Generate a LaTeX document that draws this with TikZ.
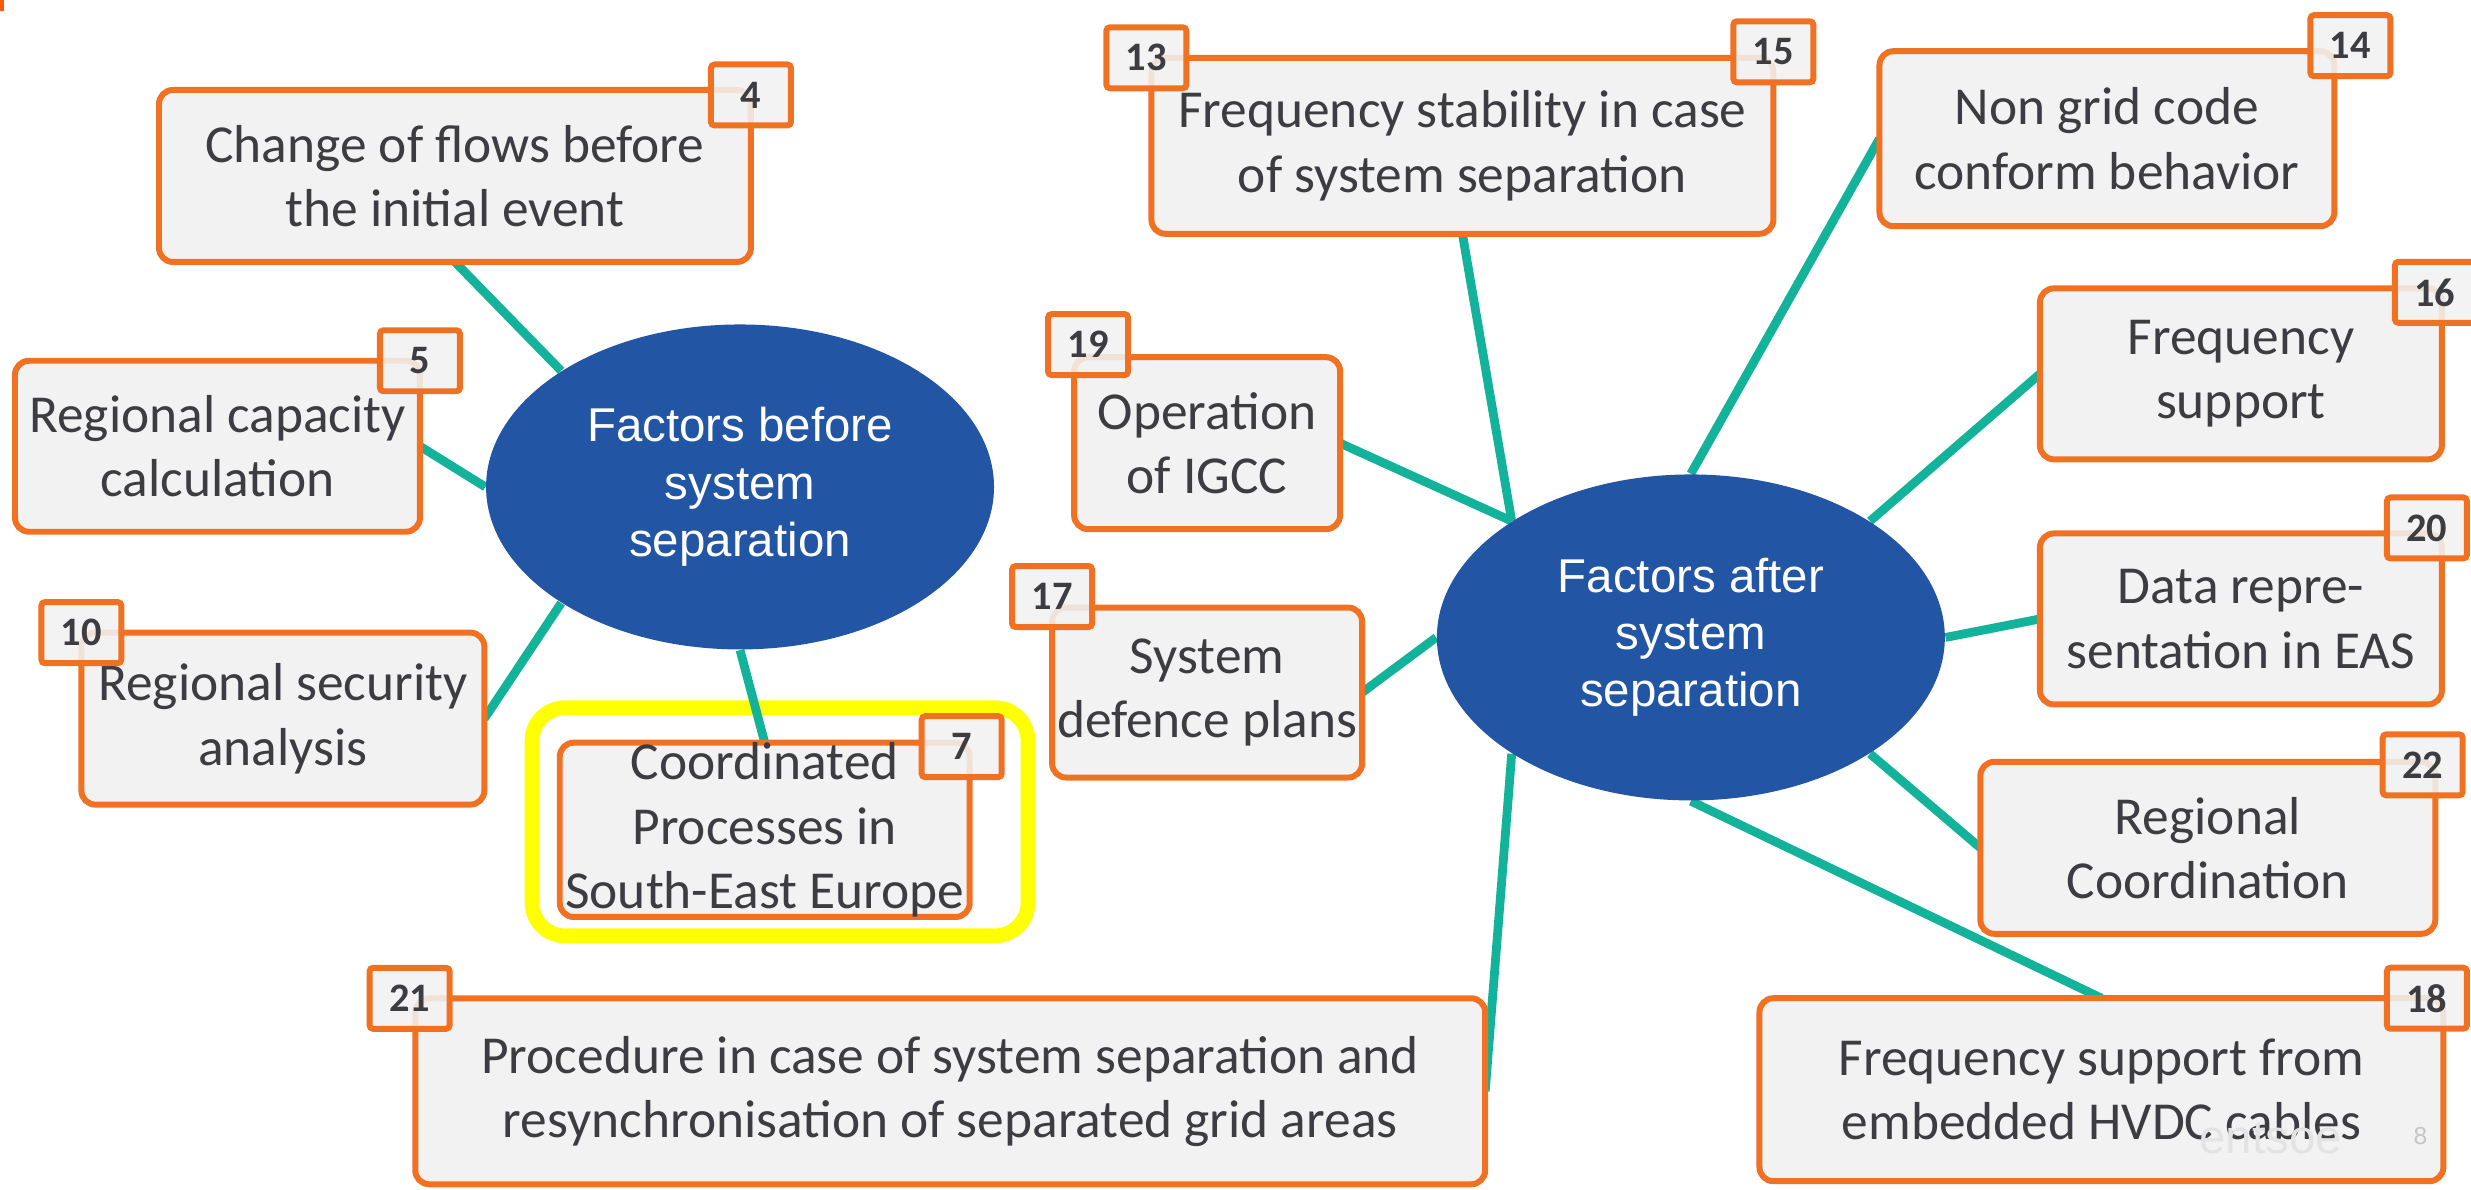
\documentclass[tikz,border=0pt]{standalone}
\usepackage{fontspec}
\setmainfont{Carlito}
\newfontfamily\hubfont{Liberation Sans}
\usepackage{xcolor}
\usepackage{tikz}
\usetikzlibrary{positioning,shapes.geometric,backgrounds}
\definecolor{sepaorange}{HTML}{F17123}
\definecolor{sepateal}{HTML}{13B39B}
\definecolor{sepablue}{HTML}{2255A4}
\definecolor{sepagray}{HTML}{F2F2F2}
\definecolor{sepatext}{HTML}{3C3C41}
\definecolor{sepayellow}{HTML}{FFFF00}
\definecolor{sepamark}{HTML}{FF5A00}

\begin{document}
\begin{tikzpicture}[
    card/.style={draw=sepaorange, fill=sepagray, line width=1.7pt, rounded corners=0.14cm,
                 align=center, text=sepatext, inner sep=0pt, outer sep=0pt,
                 font=\fontsize{15.2}{18.3}\selectfont},
    tag/.style={draw=sepaorange, fill=sepagray, fill opacity=0.88, text opacity=1,
                line width=1.7pt, rounded corners=1pt, minimum width=0.8cm, minimum height=0.61cm,
                inner sep=0pt, text=sepatext, font=\fontsize{11.5}{12}\selectfont\bfseries},
    hub/.style={ellipse, fill=sepablue, text=white, align=center, inner sep=0pt,
                font=\hubfont\fontsize{13.5}{16.3}\selectfont},
    link/.style={draw=sepateal, line width=2.5pt},
    hilite/.style={draw=sepayellow, line width=4.2pt, rounded corners=0.33cm,
                   minimum width=4.96cm, minimum height=2.28cm},
]
\useasboundingbox (0,0) rectangle (24.712,-11.899);
\fill[sepamark] (0,0) rectangle (0.035,-0.11);

\node[hub, minimum width=5.08cm, minimum height=3.25cm] (hubL) at (7.401,-4.870) {Factors before\\system\\separation};
\node[hub, minimum width=5.08cm, minimum height=3.26cm] (hubR) at (16.910,-6.375) {Factors after\\system\\separation};

\node[card, minimum width=5.92cm, minimum height=1.72cm] (b4) at (4.55,-1.76) {Change of flows before\\the initial event};
\node[card, minimum width=4.05cm, minimum height=1.71cm] (b5) at (2.175,-4.463) {Regional capacity\\calculation};
\node[card, minimum width=4.03cm, minimum height=1.72cm] (b10) at (2.829,-7.187) {Regional security\\analysis};
\node[card, minimum width=4.10cm, minimum height=1.72cm] (b7) at (7.648,-8.299) {Coordinated\\Processes in\\South-East Europe};
\node[card, minimum width=6.22cm, minimum height=1.76cm] (b13) at (14.625,-1.458) {Frequency stability in case\\of system separation};
\node[card, minimum width=4.55cm, minimum height=1.75cm] (b14) at (21.071,-1.387) {Non grid code\\conform behavior};
\node[card, minimum width=2.66cm, minimum height=1.72cm] (b19) at (12.072,-4.432) {Operation\\of IGCC};
\node[card, minimum width=3.10cm, minimum height=1.70cm] (b17) at (12.072,-6.926) {System\\defence plans};
\node[card, minimum width=4.02cm, minimum height=1.71cm] (b16) at (22.411,-3.739) {Frequency\\support};
\node[card, minimum width=4.02cm, minimum height=1.71cm] (b20) at (22.411,-6.190) {Data repre-\\sentation in EAS};
\node[card, minimum width=4.55cm, minimum height=1.72cm] (b22) at (22.080,-8.479) {Regional\\Coordination};
\node[card, minimum width=6.84cm, minimum height=1.83cm] (b18) at (21.016,-10.898) {Frequency support from\\embedded HVDC cables};
\node[card, minimum width=10.70cm, minimum height=1.86cm] (b21) at (9.503,-10.914) {Procedure in case of system separation and\\resynchronisation of separated grid areas};

\node[tag, yshift=-0.05cm] (t4) at (b4.north east) {4};
\node[tag] (t5) at (b5.north east) {5};
\node[tag] (t10) at (b10.north west) {10};
\node[tag, xshift=-0.08cm, yshift=-0.04cm] (t7) at (b7.north east) {7};
\node[tag, xshift=-0.05cm] (t13) at (b13.north west) {13};
\node[tag, yshift=0.06cm] (t15) at (b13.north east) {15};
\node[tag, xshift=0.16cm, yshift=0.055cm] (t14) at (b14.north east) {14};
\node[tag, xshift=0.14cm, yshift=0.126cm] (t19) at (b19.north west) {19};
\node[tag, yshift=0.11cm] (t17) at (b17.north west) {17};
\node[tag, xshift=-0.07cm, yshift=-0.04cm] (t16) at (b16.north east) {16};
\node[tag, xshift=-0.15cm, yshift=0.055cm] (t20) at (b20.north east) {20};
\node[tag, xshift=-0.126cm, yshift=-0.03cm] (t22) at (b22.north east) {22};
\node[tag, xshift=-0.165cm] (t18) at (b18.north east) {18};
\node[tag, xshift=-0.057cm] (t21) at (b21.north west) {21};

\node[text=gray!22, font=\hubfont\fontsize{13.5}{14}\selectfont, inner sep=0pt] (logo) at (22.71,-11.38) {entsoe};
\node[text=gray!45, font=\hubfont\fontsize{7}{8}\selectfont, inner sep=0pt] (page) at (24.207,-11.363) {8};

\begin{scope}[on background layer]
\fill[white] (0.035,0) rectangle (24.712,-11.899);
\fill[white] (0,-0.11) rectangle (0.035,-11.899);
\node[hilite] (frame7) at (7.801,-8.219) {};
\draw[link] (b4.south) -- (hubL.147);
\draw[link] (b5.east) -- (hubL.west);
\draw[link] (b10.east) -- (hubL.213);
\draw[link] (hubL.south) -- (b7.north);
\draw[link] (b13.south) -- (hubR.147);
\draw[link] (b19.east) -- (hubR.147);
\draw[link] (b14.west) -- (hubR.north);
\draw[link] (b17.east) -- (hubR.west);
\draw[link] (b16.west) -- (hubR.33);
\draw[link] (b20.west) -- (hubR.east);
\draw[link] (b22.west) -- (hubR.327);
\draw[link] (b18.north) -- (hubR.south);
\draw[link] (b21.east) -- (hubR.213);
\end{scope}
\end{tikzpicture}
\end{document}
